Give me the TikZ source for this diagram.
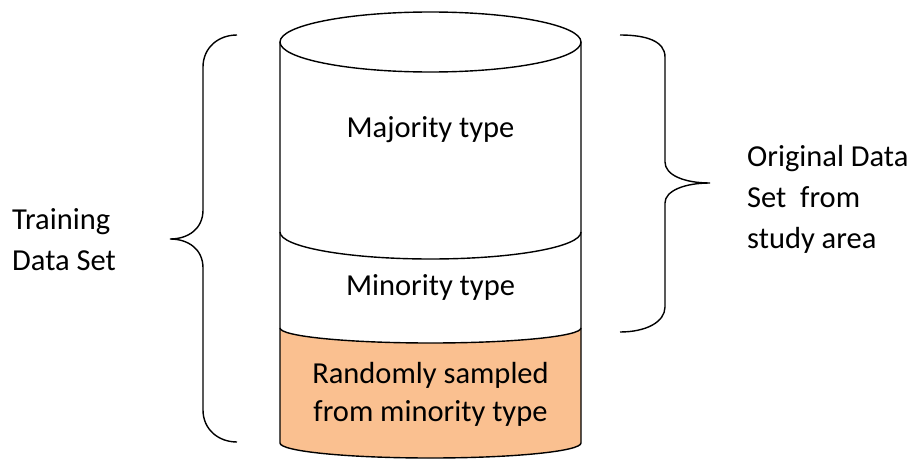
\documentclass[tikz,border=0pt]{standalone}
\usepackage{fontspec}
\setmainfont{Carlito}
\begin{document}
\begin{tikzpicture}[x=1pt,y=1pt,
  line/.style={draw=black,line width=1.4pt},
  lbl/.style={font=\fontsize{30.5}{41}\selectfont,text=black,inner sep=0pt},
  clbl/.style={font=\fontsize{30.5}{38}\selectfont,text=black,inner sep=0pt,align=center}]
\useasboundingbox (0,0) rectangle (913,459);
% orange bottom section
\path[fill={rgb,255:red,250;green,192;blue,144}] (280,131) arc[start angle=180,end angle=360,x radius=150.5,y radius=15] -- (581,16) arc[start angle=0,end angle=-180,x radius=150.5,y radius=15] -- cycle;
% cylinder body
\draw[line] (280,417) -- (280,16) arc[start angle=180,end angle=360,x radius=150.5,y radius=15] -- (581,417);
\draw[line] (430.5,417) ellipse[x radius=150.5,y radius=30];
\draw[line] (280,227) arc[start angle=180,end angle=360,x radius=150.5,y radius=27];
\draw[line] (280,131) arc[start angle=180,end angle=360,x radius=150.5,y radius=15];
% labels in cylinder
\node[clbl] (maj) at (430.5,329) {Majority type};
\node[clbl] (min) at (430.5,172) {Minority type};
\node[clbl] (rnd) at (430.5,65) {Randomly sampled\\from minority type};
% left brace
\draw[line] (237,424) .. controls (218,424) and (203,411) .. (203,392) -- (203,249)
  .. controls (203,230) and (188,220) .. (170,220)
  .. controls (188,220) and (203,210) .. (203,191) -- (203,49)
  .. controls (203,30) and (218,17) .. (237,17);
% right brace
\draw[line] (620,424) .. controls (646,424) and (665,418) .. (665,402) -- (665,297)
  .. controls (665,284) and (684,276) .. (710,276)
  .. controls (684,276) and (665,268) .. (665,256) -- (665,152)
  .. controls (665,137) and (646,127) .. (620,127);
% side labels
\node[lbl,align=left,anchor=west] (train) at (12,219) {Training\\Data Set};
\node[lbl,align=left,anchor=west] (orig) at (747,260) {Original Data\\Set\ \ from\\study area};
\end{tikzpicture}
\end{document}
